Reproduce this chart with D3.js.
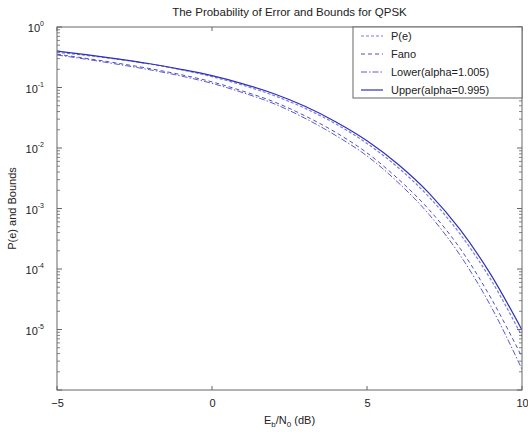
<!DOCTYPE html>
<html><head><meta charset="utf-8">
<script src="https://cdn.jsdelivr.net/npm/d3@7"></script>
<style>body{margin:0;background:#fff}svg{display:block}text{font-family:"Liberation Sans",Arial,sans-serif;fill:#222}</style>
</head><body><div id="chart"></div>
<script>
const snr = [-5,-4,-3,-2,-1,0,1,2,3,4,5,6,7,8,9,10];
const pe    = [0.38,0.337,0.291,0.244,0.197,0.151,0.109,0.0736,0.0453,0.0249,0.0119,0.00477,0.00155,0.00038,0.000066,0.0000077];
const fano  = [0.355,0.30,0.25,0.205,0.163,0.124,0.087,0.058,0.034,0.018,0.0083,0.0031,0.00096,0.00022,0.000033,0.0000035];
const lower = [0.345,0.29,0.24,0.196,0.155,0.117,0.082,0.054,0.031,0.016,0.0074,0.0027,0.0008,0.00017,0.000024,0.0000022];
const upper = [0.40,0.345,0.295,0.247,0.20,0.157,0.115,0.079,0.049,0.027,0.0132,0.0054,0.0018,0.00045,0.00008,0.0000098];
const seriesNames = ["P(e)","Fano","Lower(alpha=1.005)","Upper(alpha=0.995)"];
const xTicks = [-5,0,5,10];
const yTickExps = [0,-1,-2,-3,-4,-5];
const title = "The Probability of Error and Bounds for QPSK";

const W=528,H=438, L=57,R=522,T=27,B=390;
const svg=d3.select("#chart").append("svg").attr("width",W).attr("height",H);
const x=d3.scaleLinear().domain([-5,10]).range([L,R]);
const y=d3.scaleLog().domain([1e-6,1]).range([B,T]);

const styles=[
 {c:"#7a7ae8",d:"3,2",w:1.2},
 {c:"#5050c0",d:"4,3",w:1},
 {c:"#5a5ad0",d:"6,2,1.5,2",w:1},
 {c:"#3030b8",d:null,w:1.2}
];
const data=[pe,fano,lower,upper];

const defs=svg.append("defs");
defs.append("clipPath").attr("id","clip").append("rect").attr("x",L).attr("y",T).attr("width",R-L).attr("height",B-T);

const line=d3.line().x((d,i)=>x(snr[i])).y(d=>y(d)).curve(d3.curveMonotoneX);
const g=svg.append("g").attr("clip-path","url(#clip)");
data.forEach((s,i)=>{
  g.append("path").attr("d",line(s)).attr("fill","none").attr("stroke",styles[i].c)
   .attr("stroke-width",styles[i].w).attr("stroke-dasharray",styles[i].d);
});

// box
svg.append("rect").attr("x",L).attr("y",T).attr("width",R-L).attr("height",B-T).attr("fill","none").attr("stroke","#666").attr("stroke-width",1);

// x ticks (inside, bottom & top)
const axColor="#666";
xTicks.forEach(v=>{
  svg.append("line").attr("x1",x(v)).attr("x2",x(v)).attr("y1",B).attr("y2",B-4).attr("stroke",axColor);
  svg.append("line").attr("x1",x(v)).attr("x2",x(v)).attr("y1",T).attr("y2",T+4).attr("stroke",axColor);
});
const xa=d3.axisBottom(x).tickValues(xTicks).tickSize(0).tickPadding(9).tickFormat(d3.format("d"));
const xg=svg.append("g").attr("transform",`translate(0,${B})`).call(xa);
xg.select(".domain").remove();
xg.selectAll("text").style("font-size","11px").style("fill","#222").style("font-family","Liberation Sans, Arial, sans-serif");

// y ticks major + minor
for(let e=-6;e<=0;e++){
  const v=Math.pow(10,e);
  svg.append("line").attr("x1",L).attr("x2",L+5).attr("y1",y(v)).attr("y2",y(v)).attr("stroke",axColor);
  svg.append("line").attr("x1",R).attr("x2",R-5).attr("y1",y(v)).attr("y2",y(v)).attr("stroke",axColor);
  if(e<0){
    for(let k=2;k<=9;k++){
      const m=k*v; if(m>=1) break;
      svg.append("line").attr("x1",L).attr("x2",L+3).attr("y1",y(m)).attr("y2",y(m)).attr("stroke",axColor).attr("stroke-width",0.8);
      svg.append("line").attr("x1",R).attr("x2",R-3).attr("y1",y(m)).attr("y2",y(m)).attr("stroke",axColor).attr("stroke-width",0.8);
    }
  }
}
yTickExps.forEach(e=>{
  const t=svg.append("text").attr("x",44).attr("y",y(Math.pow(10,e))+5).attr("text-anchor","end").style("font-size","11px");
  t.append("tspan").text("10");
  t.append("tspan").attr("dy",-6).style("font-size","7px").text(String(e));
});

// title
svg.append("text").attr("x",(L+R)/2).attr("y",16).attr("text-anchor","middle").style("font-size","11.5px").text(title);
// x label
const xl=svg.append("text").attr("x",(L+R)/2).attr("y",424).attr("text-anchor","middle").style("font-size","11px");
xl.append("tspan").text("E");
xl.append("tspan").attr("dy",3).style("font-size","8px").text("b");
xl.append("tspan").attr("dy",-3).text("/N");
xl.append("tspan").attr("dy",3).style("font-size","8px").text("0");
xl.append("tspan").attr("dy",-3).text(" (dB)");
// y label
svg.append("text").attr("transform",`translate(16,${(T+B)/2}) rotate(-90)`).attr("text-anchor","middle").style("font-size","11px").text("P(e) and Bounds");

// legend
const lg=svg.append("g");
const lx=353, ly=T, lw=R-lx, lh=71;
lg.append("rect").attr("x",lx).attr("y",ly).attr("width",lw).attr("height",lh).attr("fill","#fff").attr("stroke","#666");
seriesNames.forEach((n,i)=>{
  const yy=ly+9+i*18;
  lg.append("line").attr("x1",lx+8).attr("x2",lx+30).attr("y1",yy).attr("y2",yy)
    .attr("stroke",styles[i].c).attr("stroke-width",styles[i].w).attr("stroke-dasharray",styles[i].d);
  lg.append("text").attr("x",lx+38).attr("y",yy+4).style("font-size","11px").text(n);
});
</script></body></html>
